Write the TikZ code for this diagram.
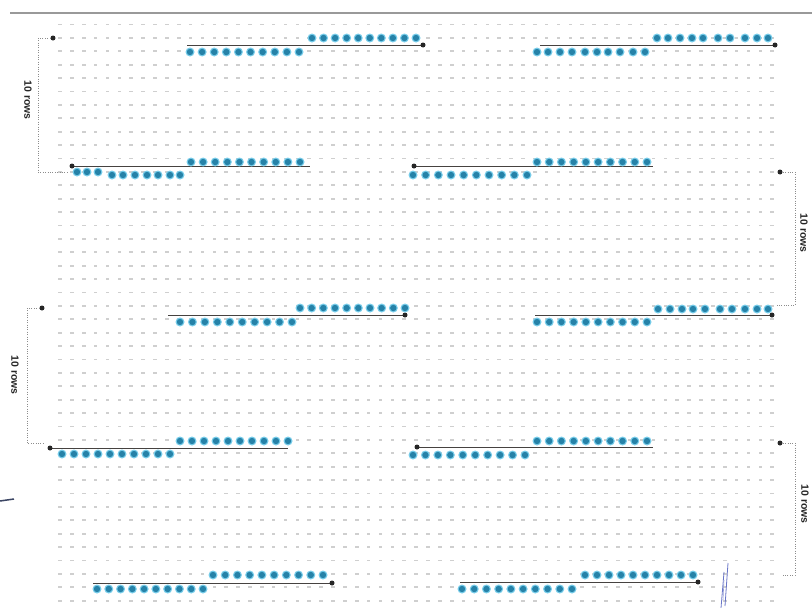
\documentclass[tikz,border=0pt]{standalone}
\usepackage{fontspec}
\setsansfont{Liberation Sans}
\definecolor{dothalo}{RGB}{120,205,234}
\definecolor{dotcore}{RGB}{38,130,168}
\definecolor{guidecol}{RGB}{70,66,64}
\definecolor{scribble}{RGB}{105,118,200}
\definecolor{smudge}{RGB}{60,70,100}
\newcommand\beadrow[3]{% y, xstart, xend : ten evenly spaced beads
  \foreach \i in {0,...,9}{%
    \fill[halo] ({#2+\i*(#3-#2)/9},#1) circle (4.5);
    \fill[core] ({#2+\i*(#3-#2)/9},#1) circle (3.2);}}
\newcommand\beadlist[2]{% y, list of x
  \foreach \xx in {#2}{%
    \fill[halo] (\xx,#1) circle (4.5);
    \fill[core] (\xx,#1) circle (3.2);}}
\begin{document}
\begin{tikzpicture}[x=1pt,y=-1pt,
  gridmark/.style={fill=black!19},
  halo/.style={fill=dothalo},
  core/.style={fill=dotcore},
  guide/.style={draw=guidecol, line width=0.9pt},
  marker/.style={circle, fill=black!85, inner sep=0pt, minimum size=5pt},
  bracket/.style={draw=black!45, line width=0.6pt, dash pattern=on 0.8pt off 1.6pt},
  lab/.style={font=\sffamily\bfseries\fontsize{10.5}{12}\selectfont, rotate=-90, text=black!85, inner sep=0pt}]
\useasboundingbox (0,0) rectangle (812,608);
\fill[white] (0,0) rectangle (812,608);
% top rule
\draw[black!40, line width=1.6pt] (10,13) -- (812,13);
% grid of stitches
\foreach \r in {0,...,43}{
  \foreach \c in {0,...,60}{
    \fill[gridmark] ({60+\c*11.87-1.8},{24.5+\r*13.4-0.9}) rectangle ++(3.6,1.8);
  }
}
% ---------- block A (rows 1/2) ----------
\coordinate (a1) at (187,45); \coordinate (a2) at (423,45);
\draw[guide] (a1) -- (a2); \node[marker] (ma) at (a2) {};
\beadrow{38}{312}{416}
\beadrow{52}{190}{299}
\coordinate (b1) at (540,45); \coordinate (b2) at (775,45);
\draw[guide] (b1) -- (b2); \node[marker] (mb) at (b2) {};
\beadlist{38}{657,668,680,692,703,718,730,745,757,768}
\beadlist{52}{537,548,560,572,585,597,608,620,633,645}
% ---------- block B (rows 11/12) ----------
\coordinate (c1) at (72,166); \coordinate (c2) at (310,166);
\draw[guide] (c1) -- (c2); \node[marker] (mc) at (c1) {};
\beadrow{162}{191}{300}
\beadlist{172}{77,87,98}
\beadlist{175}{112,123,135,147,158,170,180}
\coordinate (d1) at (414,166); \coordinate (d2) at (653,166);
\draw[guide] (d1) -- (d2); \node[marker] (md) at (d1) {};
\beadrow{162}{537}{647}
\beadrow{175}{413}{527}
% ---------- block C (rows 21/22) ----------
\coordinate (e1) at (168,315); \coordinate (e2) at (405,315);
\draw[guide] (e1) -- (e2); \node[marker] (me) at (e2) {};
\beadrow{308}{300}{405}
\beadrow{322}{180}{292}
\coordinate (f1) at (535,315); \coordinate (f2) at (772,315);
\draw[guide] (f1) -- (f2); \node[marker] (mf) at (f2) {};
\beadlist{309}{658,670,682,693,705,720,732,745,757,768}
\beadrow{322}{537}{647}
% ---------- block D (rows 31/32) ----------
\coordinate (g1) at (50,448); \coordinate (g2) at (288,448);
\draw[guide] (g1) -- (g2); \node[marker] (mg) at (g1) {};
\beadrow{441}{180}{288}
\beadrow{454}{62}{170}
\coordinate (h1) at (417,447); \coordinate (h2) at (653,447);
\draw[guide] (h1) -- (h2); \node[marker] (mh) at (h1) {};
\beadrow{441}{537}{647}
\beadrow{455}{413}{525}
% ---------- block E (rows 41/42) ----------
\coordinate (i1) at (93,583); \coordinate (i2) at (332,583);
\draw[guide] (i1) -- (i2); \node[marker] (mi) at (i2) {};
\beadrow{575}{213}{323}
\beadrow{589}{97}{203}
\coordinate (j1) at (460,582); \coordinate (j2) at (698,582);
\draw[guide] (j1) -- (j2); \node[marker] (mj) at (j2) {};
\beadrow{575}{585}{693}
\beadrow{589}{462}{572}
% ---------- brackets ----------
\node[marker] (lm1) at (53,38) {};
\coordinate (lb1a) at (38,38); \coordinate (lb1b) at (38,172); \coordinate (lb1c) at (68,172);
\draw[bracket] (lm1) -- (lb1a) -- (lb1b) -- (lb1c);
\node[lab] (t1) at (28,100) {10 rows};
\node[marker] (lm2) at (42,308) {};
\coordinate (lb2a) at (27,308); \coordinate (lb2b) at (27,443); \coordinate (lb2c) at (45,443);
\draw[bracket] (lm2) -- (lb2a) -- (lb2b) -- (lb2c);
\node[lab] (t2) at (15,375) {10 rows};
\node[marker] (rm1) at (780,172) {};
\coordinate (rb1a) at (795,172); \coordinate (rb1b) at (795,305); \coordinate (rb1c) at (777,305);
\draw[bracket] (rm1) -- (rb1a) -- (rb1b) -- (rb1c);
\node[lab] (t3) at (804,233) {10 rows};
\node[marker] (rm2) at (780,443) {};
\coordinate (rb2a) at (795,443); \coordinate (rb2b) at (795,575); \coordinate (rb2c) at (783,575);
\draw[bracket] (rm2) -- (rb2a) -- (rb2b) -- (rb2c);
\node[lab] (t4) at (805,504) {10 rows};
% ---------- scan marks ----------
\draw[smudge, line width=1.5pt] (0,501) -- (14,499);
\draw[scribble, line width=0.8pt] (721,608) .. controls (722,590) .. (724,572);
\draw[scribble, line width=0.8pt] (725,606) .. controls (726,585) .. (728,563);
\draw[scribble!70, line width=0.6pt] (723,600) -- (724,580);
\end{tikzpicture}
\end{document}
